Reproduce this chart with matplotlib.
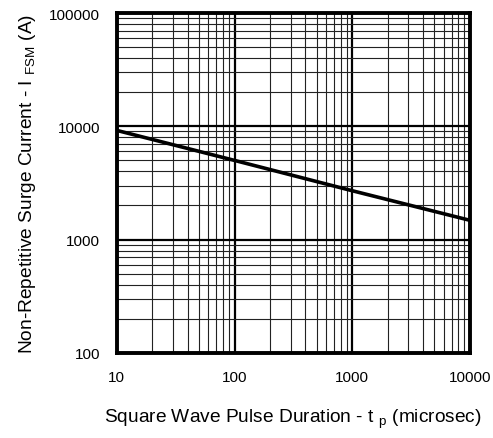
import matplotlib.pyplot as plt
import matplotlib.ticker as mticker

plt.rcParams['font.family'] = ['Liberation Sans', 'DejaVu Sans']
plt.rcParams['mathtext.fontset'] = 'custom'
plt.rcParams['mathtext.rm'] = 'Liberation Sans'
plt.rcParams['mathtext.it'] = 'Liberation Sans'

# pulse duration (microsec) and surge current (A)
tp = [10, 100, 1000, 10000]
ifsm = [9200, 5000, 2700, 1480]

x_ticks = [10, 100, 1000, 10000]
x_labels = ['10', '100', '1000', '10000']
y_ticks = [100, 1000, 10000, 100000]
y_labels = ['100', '1000', '10000', '100000']

fig = plt.figure(figsize=(4.93, 4.39), dpi=100)
ax = fig.add_axes([0.237, 0.194, 0.716, 0.774])

ax.set_xscale('log')
ax.set_yscale('log')
ax.set_xlim(10, 10000)
ax.set_ylim(100, 100000)

ax.plot(tp, ifsm, color='black', lw=2.6, solid_capstyle='butt', zorder=3)

ax.set_xticks(x_ticks)
ax.set_xticklabels(x_labels)
ax.set_yticks(y_ticks)
ax.set_yticklabels(y_labels)
ax.xaxis.set_minor_locator(mticker.LogLocator(base=10, subs=range(2, 10)))
ax.yaxis.set_minor_locator(mticker.LogLocator(base=10, subs=range(2, 10)))
ax.xaxis.set_minor_formatter(mticker.NullFormatter())
ax.yaxis.set_minor_formatter(mticker.NullFormatter())
ax.tick_params(which='both', length=0, labelsize=11, pad=12)

ax.grid(which='major', color='black', lw=1.6)
ax.grid(which='minor', color='#222222', lw=0.8)

for s in ax.spines.values():
    s.set_linewidth(2.8)

ax.set_xlabel(r'Square Wave Pulse Duration - t $_{\mathrm{p}}$ (microsec)', fontsize=13.8, labelpad=17)
ax.set_ylabel(r'Non-Repetitive Surge Current - I $_{\mathrm{FSM}}$ (A)', fontsize=13.8, labelpad=8)

plt.savefig('out.png', dpi=100)
